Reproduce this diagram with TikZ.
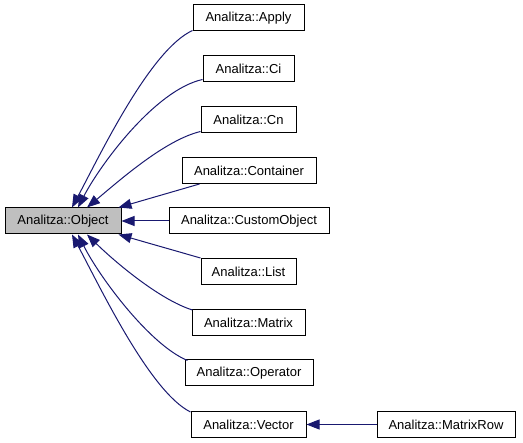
\documentclass[tikz,border=0pt]{standalone}
\usepackage{fontspec}
\setmainfont{Liberation Sans}
\usetikzlibrary{arrows.meta,calc}
\definecolor{edgecol}{HTML}{191970}
\tikzset{
  cls/.style={draw=black,line width=1pt,minimum height=26pt,inner sep=0pt,font=\fontsize{13}{15}\selectfont,fill=white},
  base/.style={cls,fill=black!25},
  inh/.style={draw=edgecol,line width=1pt,-{Triangle[length=13pt,width=10pt]}},
}
\begin{document}
\begin{tikzpicture}[x=1pt,y=-1pt]
\useasboundingbox (0,0) rectangle (523,443);
\node[base,minimum width=116pt] (obj) at (63,221) {Analitza::Object};
\node[cls,minimum width=111pt] (apply) at (248.5,18) {Analitza::Apply};
\node[cls,minimum width=91pt] (ci) at (248.5,69) {Analitza::Ci};
\node[cls,minimum width=95pt] (cn) at (248.5,120) {Analitza::Cn};
\node[cls,minimum width=134pt] (cont) at (249,170.5) {Analitza::Container};
\node[cls,minimum width=160pt] (cust) at (249,221) {Analitza::CustomObject};
\node[cls,minimum width=95pt] (list) at (248.5,271.5) {Analitza::List};
\node[cls,minimum width=113pt] (mat) at (248.5,322.5) {Analitza::Matrix};
\node[cls,minimum width=128pt] (op) at (249,373) {Analitza::Operator};
\node[cls,minimum width=115pt] (vec) at (248.5,424.5) {Analitza::Vector};
\node[cls,minimum width=138pt] (mrow) at (446,424.5) {Analitza::MatrixRow};
\draw[inh] ($(apply.south west)+(0,-1)$) .. controls (150,50) and (100,155) .. ($(obj.north)+(9,0)$);
\draw[inh] ($(ci.south west)+(0,-3)$) .. controls (155,90) and (100,165) .. ($(obj.north)+(15,0)$);
\draw[inh] ($(cn.south west)+(0,-2)$) .. controls (165,140) and (120,180) .. ($(obj.north)+(24,0)$);
\draw[inh] ($(cont.south west)+(18,0)$) -- ($(obj.north east)+(-3,0)$);
\draw[inh] (cust.west) -- (obj.east);
\draw[inh] ($(list.north west)+(0,0)$) -- ($(obj.south east)+(-3,0)$);
\draw[inh] ($(mat.north west)+(1,1)$) .. controls (160,300) and (115,262) .. ($(obj.south)+(24,0)$);
\draw[inh] ($(op.north west)+(3,1)$) .. controls (150,345) and (100,278) .. ($(obj.south)+(15,0)$);
\draw[inh] ($(vec.north west)+(0,1)$) .. controls (150,392) and (100,287) .. ($(obj.south)+(9,0)$);
\draw[inh] (mrow.west) -- (vec.east);
\end{tikzpicture}
\end{document}
